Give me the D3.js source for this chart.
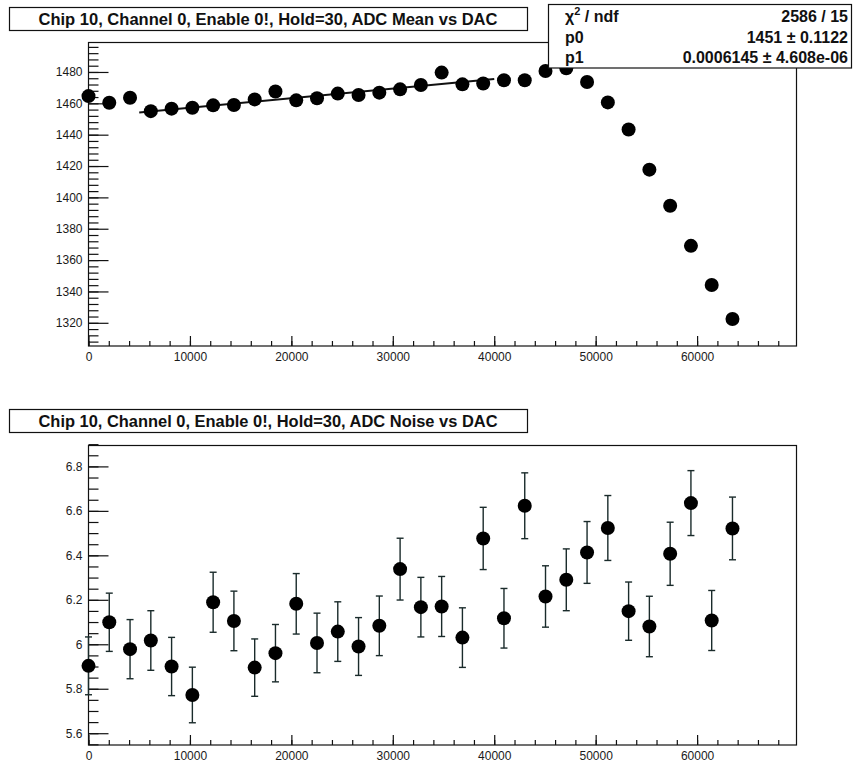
<!DOCTYPE html>
<html><head><meta charset="utf-8">
<script src="https://cdn.jsdelivr.net/npm/d3@7"></script>
<style>
body{margin:0;background:#fff}
svg{display:block}
text{font-family:"Liberation Sans",Arial,Helvetica,sans-serif}
</style></head>
<body><svg id="c" width="853" height="762"></svg>
<script>
// ---------------- data ----------------
const dac = [0,2048,4096,6144,8192,10240,12288,14336,16384,18432,20480,22528,24576,26624,28672,30720,
             32768,34816,36864,38912,40960,43008,45056,47104,49152,51200,53248,55296,57344,59392,61440,63488];
const adcMean = [1464.6,1460.4,1463.6,1455.0,1456.6,1457.2,1458.7,1458.9,1462.5,1467.5,1461.9,1463.2,1466.2,1465.3,1466.8,1468.9,
                 1471.7,1479.6,1472.1,1472.6,1474.7,1474.7,1480.6,1482.4,1473.6,1460.6,1443.3,1417.7,1394.7,1369.1,1344.1,1322.4];
const adcNoise = [5.903,6.099,5.978,6.017,5.900,5.772,6.189,6.105,5.895,5.960,6.182,6.006,6.057,5.990,6.083,6.338,
                  6.167,6.170,6.030,6.476,6.117,6.623,6.215,6.290,6.413,6.523,6.149,6.080,6.407,6.635,6.107,6.521];
const noiseErr = [0.13,0.131,0.133,0.134,0.131,0.125,0.135,0.134,0.129,0.129,0.136,0.134,0.134,0.130,0.134,0.139,
                  0.134,0.135,0.134,0.140,0.134,0.148,0.138,0.139,0.139,0.146,0.131,0.136,0.142,0.146,0.135,0.141];
const fitP0 = 1451, fitP1 = 0.0006145;
const fitRange = [5000, 40000];
const xTicks = [0,10000,20000,30000,40000,50000,60000];
const meanTicks = [1320,1340,1360,1380,1400,1420,1440,1460,1480];
const noiseTicks = [5.6,5.8,6,6.2,6.4,6.6,6.8];
const titleTop = "Chip 10, Channel 0, Enable 0!, Hold=30, ADC Mean vs DAC";
const titleBot = "Chip 10, Channel 0, Enable 0!, Hold=30, ADC Noise vs DAC";
const statsRows = [["χ2 / ndf","2586 / 15"],["p0","1451 ± 0.1122"],["p1","0.0006145 ± 4.608e-06"]];

// ---------------- drawing ----------------
const svg = d3.select("#c");
const ink = "#111";
const X0 = 88.5, X1 = 796.5;
const xDomain = [0, 69800];

function panel(cfg){
  const g = svg.append("g");
  const x = d3.scaleLinear().domain(xDomain).range([X0, X1]);
  const y = d3.scaleLinear().domain(cfg.yDomain).range([cfg.yBot, cfg.yTop]);
  g.append("rect").attr("x",X0).attr("y",cfg.yTop).attr("width",X1-X0).attr("height",cfg.yBot-cfg.yTop)
    .attr("fill","#fff").attr("stroke",ink).attr("stroke-width",1.2);
  const ym = g.append("g").attr("transform",`translate(${X0},0)`)
    .call(d3.axisLeft(y).tickValues(cfg.yMinor).tickSize(-10).tickSizeOuter(0).tickFormat(""));
  const yM = g.append("g").attr("transform",`translate(${X0},0)`)
    .call(d3.axisLeft(y).tickValues(cfg.yTicks).tickSize(-20).tickSizeOuter(0).tickPadding(6).tickFormat(cfg.yFmt));
  const xm = g.append("g").attr("transform",`translate(0,${cfg.yBot})`)
    .call(d3.axisBottom(x).tickValues(d3.range(0,70000,2000)).tickSize(-5).tickSizeOuter(0).tickFormat(""));
  const xM = g.append("g").attr("transform",`translate(0,${cfg.yBot})`)
    .call(d3.axisBottom(x).tickValues(xTicks).tickSize(-10).tickSizeOuter(0).tickPadding(cfg.xPad).tickFormat(d3.format("d")));
  [ym,yM,xm,xM].forEach(a=>{
    a.select(".domain").remove();
    a.selectAll("line").attr("stroke",ink).attr("stroke-width",1.2);
    a.selectAll("text").attr("fill","#1a1a1a").style("font-size","12px")
      .style("font-family","'Liberation Sans',Arial,sans-serif");
  });
  return {g,x,y};
}

function titleBox(txt, y0){
  svg.append("rect").attr("x",9.5).attr("y",y0).attr("width",518).attr("height",23)
    .attr("fill","#fff").attr("stroke",ink).attr("stroke-width",1.2);
  svg.append("text").attr("x",268).attr("y",y0+17.5).attr("text-anchor","middle")
    .attr("textLength",459).attr("lengthAdjust","spacingAndGlyphs")
    .style("font-size","16px").style("font-weight","bold").attr("fill","#111").text(txt);
}

// ---- top panel ----
const topP = panel({yDomain:[1305.2,1498.8], yTop:42.5, yBot:346, yTicks:meanTicks,
  yMinor:d3.range(1308,1498,4), yFmt:d3.format("d"), xPad:6});
const fitLine = d3.line().x(d=>topP.x(d)).y(d=>topP.y(fitP0+fitP1*d));
topP.g.append("path").attr("d",fitLine(fitRange)).attr("stroke",ink).attr("stroke-width",2).attr("fill","none");
topP.g.selectAll("circle.m").data(dac).join("circle")
  .attr("cx",d=>topP.x(d)).attr("cy",(d,i)=>topP.y(adcMean[i])).attr("r",7).attr("fill","#000");

// stats box
const sb = svg.append("g");
sb.append("rect").attr("x",548.5).attr("y",4.5).attr("width",303).attr("height",63.5)
  .attr("fill","#fff").attr("stroke",ink).attr("stroke-width",1.2);
const statsBase = [22, 42.5, 63];
statsRows.forEach((r,i)=>{
  const yy = statsBase[i];
  const t = sb.append("text").attr("x",565).attr("y",yy).style("font-size","16px").style("font-weight","bold").attr("fill","#111");
  if(r[0].startsWith("χ2")){
    t.append("tspan").text("χ");
    t.append("tspan").attr("dy",-7).style("font-size","11px").text("2");
    t.append("tspan").attr("dy",7).text(" / ndf");
  } else t.text(r[0]);
  sb.append("text").attr("x",848).attr("y",yy).attr("text-anchor","end").style("font-size","16px")
    .style("font-weight","bold").attr("fill","#111").text(r[1]);
});
titleBox(titleTop, 7.5);

// ---- bottom panel ----
const botP = panel({yDomain:[5.547,6.894], yTop:445.5, yBot:745, yTicks:noiseTicks,
  yMinor:d3.range(5.55,6.9,0.05).map(v=>+v.toFixed(2)), yFmt:d=>String(+d.toFixed(1)), xPad:6});
const eb = botP.g.append("g").attr("stroke","#1a2b2b").attr("stroke-width",1.4);
dac.forEach((d,i)=>{
  const cx = botP.x(d), y1 = botP.y(adcNoise[i]+noiseErr[i]), y2 = botP.y(adcNoise[i]-noiseErr[i]);
  eb.append("line").attr("x1",cx).attr("x2",cx).attr("y1",y1).attr("y2",y2);
  eb.append("line").attr("x1",cx-3.5).attr("x2",cx+3.5).attr("y1",y1).attr("y2",y1);
  eb.append("line").attr("x1",cx-3.5).attr("x2",cx+3.5).attr("y1",y2).attr("y2",y2);
});
botP.g.selectAll("circle.n").data(dac).join("circle")
  .attr("cx",d=>botP.x(d)).attr("cy",(d,i)=>botP.y(adcNoise[i])).attr("r",7).attr("fill","#000");
titleBox(titleBot, 409.5);
</script></body></html>
